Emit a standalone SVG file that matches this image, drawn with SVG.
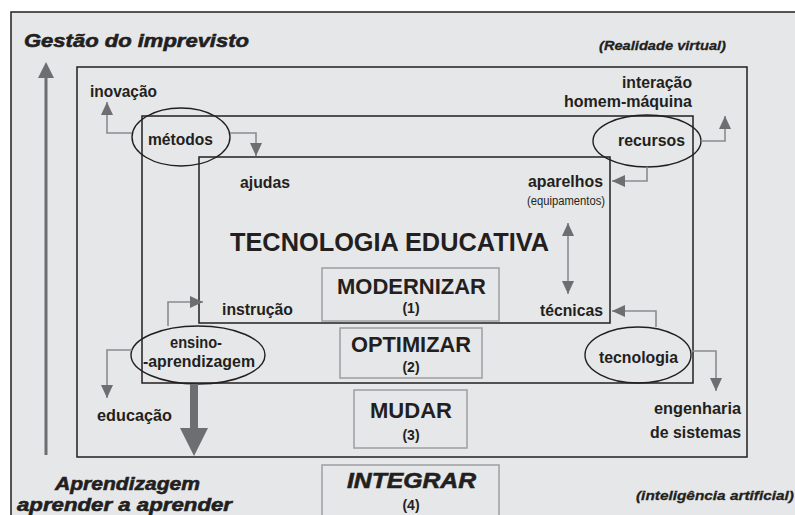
<svg xmlns="http://www.w3.org/2000/svg" width="795" height="515" viewBox="0 0 795 515">
<defs>
<style>
.frame{fill:none;stroke:#231f20;stroke-width:1.5}
.ell{fill:none;stroke:#231f20;stroke-width:1.4}
.box{fill:none;stroke:#9d9fa2;stroke-width:1.5}
.con{fill:none;stroke:#8a8c8e;stroke-width:1.6}
.t{font-family:"Liberation Sans",Arial,sans-serif;font-weight:bold;fill:#231f20}
.lab{font-size:17px}
.hv{font-style:italic;font-weight:bold;stroke:#231f20;stroke-width:0.6}
.hs{stroke-width:0.3}
.big{font-size:21.5px}
.num{font-size:14px}
.mid{text-anchor:middle}
.end{text-anchor:end}
.reg{font-weight:normal}
</style>
<marker id="ah" viewBox="0 0 13 12" refX="13" refY="6" markerWidth="13" markerHeight="12" markerUnits="userSpaceOnUse" orient="auto-start-reverse">
<path d="M0,0 L13,6 L0,12 z" fill="#6d6e71"/>
</marker>
</defs>
<rect x="0" y="0" width="795" height="515" fill="#ffffff"/>
<rect x="11" y="12" width="800" height="520" fill="#e6e7e8" stroke="#231f20" stroke-width="1.5"/>

<g id="frames">
<rect class="frame" x="77" y="67" width="670" height="390"/>
<rect class="frame" x="142" y="116" width="551" height="267"/>
<rect class="frame" x="199" y="157" width="411" height="166"/>
</g>

<g id="headings">
<text class="t hv" x="24" y="47" font-size="19" textLength="225" lengthAdjust="spacingAndGlyphs">Gestão do imprevisto</text>
<text class="t hv hs" x="599" y="50" font-size="13.5" textLength="127" lengthAdjust="spacingAndGlyphs">(Realidade virtual)</text>
<text class="t hv" x="55" y="490" font-size="19" textLength="145" lengthAdjust="spacingAndGlyphs">Aprendizagem</text>
<text class="t hv" x="17" y="511" font-size="19" textLength="215" lengthAdjust="spacingAndGlyphs">aprender a aprender</text>
<text class="t hv hs" x="636" y="500" font-size="13.5" textLength="158" lengthAdjust="spacingAndGlyphs">(inteligência artificial)</text>
<text class="t" x="230" y="251" font-size="26.5" textLength="319" lengthAdjust="spacingAndGlyphs">TECNOLOGIA EDUCATIVA</text>
</g>

<g id="labels">
<text class="t lab" x="90" y="97" textLength="67" lengthAdjust="spacingAndGlyphs">inovação</text>
<text class="t lab" x="240" y="188" textLength="50" lengthAdjust="spacingAndGlyphs">ajudas</text>
<text class="t lab" x="622" y="88" textLength="70" lengthAdjust="spacingAndGlyphs">interação</text>
<text class="t lab" x="564" y="107" textLength="128" lengthAdjust="spacingAndGlyphs">homem-máquina</text>
<text class="t lab" x="528" y="187" textLength="75" lengthAdjust="spacingAndGlyphs">aparelhos</text>
<text class="t reg" x="527" y="205" font-size="12" textLength="78" lengthAdjust="spacingAndGlyphs">(equipamentos)</text>
<text class="t lab" x="540" y="316" textLength="63" lengthAdjust="spacingAndGlyphs">técnicas</text>
<text class="t lab" x="222" y="315" textLength="71" lengthAdjust="spacingAndGlyphs">instrução</text>
<text class="t lab" x="97" y="421" textLength="75" lengthAdjust="spacingAndGlyphs">educação</text>
<text class="t lab" x="654" y="414" textLength="87" lengthAdjust="spacingAndGlyphs">engenharia</text>
<text class="t lab" x="650" y="438" textLength="91" lengthAdjust="spacingAndGlyphs">de sistemas</text>
</g>

<g id="node-metodos">
<ellipse class="ell" cx="181" cy="137" rx="49" ry="29"/>
<text class="t lab" x="148" y="145" textLength="65" lengthAdjust="spacingAndGlyphs">métodos</text>
</g>
<g id="node-recursos">
<ellipse class="ell" cx="647" cy="141" rx="54" ry="26"/>
<text class="t lab" x="618" y="146" textLength="67" lengthAdjust="spacingAndGlyphs">recursos</text>
</g>
<g id="node-ensino">
<ellipse class="ell" cx="198" cy="355" rx="67" ry="29"/>
<text class="t lab" x="170" y="348" textLength="52" lengthAdjust="spacingAndGlyphs">ensino-</text>
<text class="t lab" x="143" y="367" textLength="112" lengthAdjust="spacingAndGlyphs">-aprendizagem</text>
</g>
<g id="node-tecnologia">
<ellipse class="ell" cx="638" cy="355" rx="53" ry="28"/>
<text class="t lab" x="599" y="363" textLength="79" lengthAdjust="spacingAndGlyphs">tecnologia</text>
</g>

<g id="node-modernizar">
<rect class="box" x="322" y="268" width="177" height="53"/>
<text class="t big" x="337" y="294" textLength="149" lengthAdjust="spacingAndGlyphs">MODERNIZAR</text>
<text class="t num mid" x="411" y="313">(1)</text>
</g>
<g id="node-optimizar">
<rect class="box" x="340" y="328" width="142" height="50"/>
<text class="t big" x="351" y="352" textLength="120" lengthAdjust="spacingAndGlyphs">OPTIMIZAR</text>
<text class="t num mid" x="411" y="372">(2)</text>
</g>
<g id="node-mudar">
<rect class="box" x="354" y="390" width="113" height="58"/>
<text class="t big" x="370" y="418" textLength="82" lengthAdjust="spacingAndGlyphs">MUDAR</text>
<text class="t num mid" x="411" y="440">(3)</text>
</g>
<g id="node-integrar">
<rect class="box" x="322" y="465" width="177" height="60"/>
<text class="t hv" x="347" y="488" font-size="22" textLength="129" lengthAdjust="spacingAndGlyphs">INTEGRAR</text>
<text class="t num mid" x="411" y="510">(4)</text>
</g>

<g id="connectors">
<line x1="46" y1="455" x2="46" y2="76" stroke="#6d6e71" stroke-width="3"/>
<path d="M38,78 L46,62 L54,78 z" fill="#6d6e71"/>
<polyline class="con" points="132,133 107,133 107,102" marker-end="url(#ah)"/>
<polyline class="con" points="230,133 256,133 256,156" marker-end="url(#ah)"/>
<polyline class="con" points="701,141 725,141 725,116" marker-end="url(#ah)"/>
<polyline class="con" points="647,167 647,181 612,181" marker-end="url(#ah)"/>
<line class="con" x1="568" y1="223" x2="568" y2="294" marker-start="url(#ah)" marker-end="url(#ah)"/>
<polyline class="con" points="656,327 656,311 612,311" marker-end="url(#ah)"/>
<polyline class="con" points="691,351 716,351 716,391" marker-end="url(#ah)"/>
<polyline class="con" points="168,326 168,302 203,302" marker-end="url(#ah)"/>
<polyline class="con" points="132,350 107,350 107,398" marker-end="url(#ah)"/>
<line x1="194" y1="384" x2="194" y2="430" stroke="#6d6e71" stroke-width="8"/>
<path d="M180,428 L208,428 L194,456 z" fill="#6d6e71"/>
</g>
</svg>
